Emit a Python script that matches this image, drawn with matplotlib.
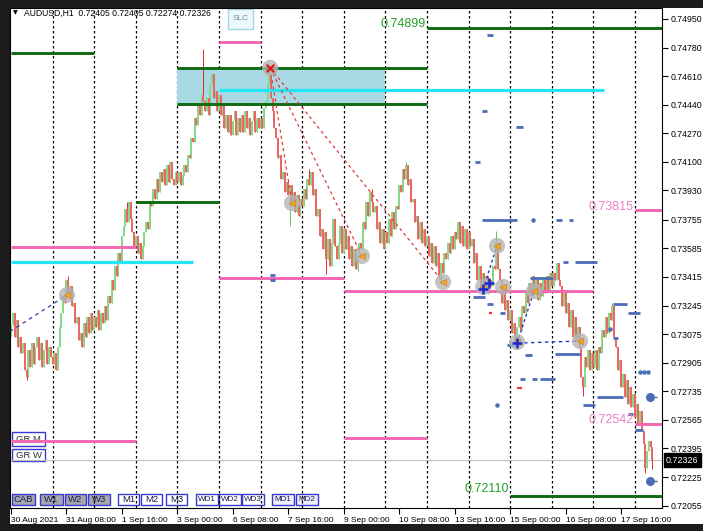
import matplotlib
matplotlib.use("Agg")
import matplotlib.pyplot as plt
from matplotlib.patches import Rectangle
from matplotlib.transforms import Affine2D, blended_transform_factory
import numpy as np

# ---------------- data ----------------
title_text = "AUDUSD,H1  0.72405 0.72405 0.72274 0.72326"
last_price = 0.72326

closes_d00 = [0.7313,0.7320,0.7306,0.7316,0.7300,0.7306,0.7296,0.7302,0.7286,0.7282,0.7298,0.7288,0.7302,0.7290,0.7300,0.7306,0.7292,0.7302,0.7288,0.7298,0.7304,0.7290,0.7300,0.7294]
closes_d01 = [0.7290,0.7296,0.7286,0.7300,0.7312,0.7320,0.7330,0.7326,0.7340,0.7332,0.7336,0.7324,0.7326,0.7314,0.7318,0.7304,0.7308,0.7300,0.7314,0.7306,0.7318,0.7308,0.7320,0.7310]
closes_d02 = [0.7318,0.7312,0.7322,0.7310,0.7320,0.7314,0.7324,0.7316,0.7330,0.7326,0.7340,0.7334,0.7348,0.7342,0.7356,0.7350,0.7366,0.7372,0.7382,0.7374,0.7386,0.7376,0.7368,0.7360]
closes_d03 = [0.7366,0.7356,0.7362,0.7352,0.7360,0.7368,0.7374,0.7370,0.7386,0.7384,0.7394,0.7388,0.7400,0.7392,0.7404,0.7398,0.7406,0.7396,0.7408,0.7398,0.7410,0.7400,0.7396,0.7404]
closes_d04 = [0.7398,0.7404,0.7396,0.7402,0.7408,0.7404,0.7414,0.7412,0.7424,0.7422,0.7436,0.7432,0.7444,0.7438,0.7450,0.7446,0.7440,0.7448,0.7438,0.7456,0.7462,0.7448,0.7452,0.7440]
closes_d05 = [0.7450,0.7438,0.7444,0.7430,0.7438,0.7428,0.7438,0.7426,0.7434,0.7440,0.7426,0.7436,0.7428,0.7438,0.7428,0.7440,0.7430,0.7436,0.7426,0.7434,0.7440,0.7428,0.7436,0.7430]
closes_d06 = [0.7436,0.7430,0.7442,0.7446,0.7456,0.7462,0.7448,0.7440,0.7430,0.7424,0.7412,0.7414,0.7400,0.7404,0.7392,0.7398,0.7390,0.7396,0.7384,0.7392,0.7380,0.7390,0.7378,0.7388]
closes_d07 = [0.7384,0.7394,0.7388,0.7400,0.7396,0.7404,0.7390,0.7394,0.7378,0.7382,0.7366,0.7370,0.7358,0.7368,0.7352,0.7364,0.7348,0.7362,0.7376,0.7360,0.7352,0.7362,0.7372,0.7356]
closes_d08 = [0.7370,0.7358,0.7366,0.7352,0.7360,0.7348,0.7358,0.7346,0.7354,0.7362,0.7358,0.7374,0.7370,0.7386,0.7378,0.7392,0.7386,0.7380,0.7384,0.7370,0.7374,0.7362,0.7370,0.7358]
closes_d09 = [0.7368,0.7362,0.7376,0.7366,0.7380,0.7370,0.7384,0.7382,0.7396,0.7392,0.7406,0.7400,0.7408,0.7396,0.7400,0.7386,0.7388,0.7374,0.7378,0.7364,0.7374,0.7362,0.7370,0.7360]
closes_d10 = [0.7366,0.7354,0.7362,0.7350,0.7360,0.7348,0.7356,0.7342,0.7350,0.7344,0.7356,0.7352,0.7362,0.7356,0.7366,0.7358,0.7368,0.7364,0.7374,0.7362,0.7372,0.7360,0.7370,0.7358]
closes_d11 = [0.7368,0.7360,0.7364,0.7350,0.7356,0.7340,0.7348,0.7334,0.7344,0.7336,0.7342,0.7332,0.7340,0.7336,0.7348,0.7346,0.7362,0.7346,0.7340,0.7326,0.7334,0.7322,0.7328,0.7316]
closes_d12 = [0.7322,0.7308,0.7314,0.7302,0.7312,0.7318,0.7310,0.7324,0.7320,0.7332,0.7326,0.7338,0.7330,0.7342,0.7332,0.7340,0.7328,0.7338,0.7330,0.7340,0.7332,0.7342,0.7334,0.7344]
closes_d13 = [0.7336,0.7344,0.7340,0.7350,0.7340,0.7336,0.7324,0.7332,0.7320,0.7326,0.7312,0.7322,0.7306,0.7318,0.7304,0.7312,0.7300,0.7282,0.7276,0.7294,0.7288,0.7298,0.7286,0.7296]
closes_d14 = [0.7288,0.7298,0.7286,0.7300,0.7296,0.7310,0.7306,0.7318,0.7308,0.7320,0.7316,0.7324,0.7306,0.7300,0.7286,0.7292,0.7276,0.7284,0.7270,0.7280,0.7266,0.7276,0.7264,0.7272,0.7258,0.7266,0.7254,0.7262,0.7250,0.7242,0.7228,0.7238,0.7244,0.72405,0.72326]
first_open = 0.7306

spike_high_bars = [33, 67, 111, 149, 172, 208, 228, 280, 316, 347]
spike_high_prices = [0.7342, 0.7386, 0.7477, 0.7467, 0.7406, 0.7394, 0.7410, 0.7369, 0.7350, 0.7326]
spike_low_bars = [9, 161, 182, 200, 248, 291, 330, 366, 370]
spike_low_prices = [0.7280, 0.7372, 0.7343, 0.7345, 0.7338, 0.7301, 0.7271, 0.7225, 0.72274]

y_ticks = [0.74950, 0.74780, 0.74610, 0.74440, 0.74270, 0.74100, 0.73930, 0.73755, 0.73585,
           0.73415, 0.73245, 0.73075, 0.72905, 0.72735, 0.72565, 0.72395, 0.72225, 0.72055]
x_tick_bars = [0, 32, 64, 96, 128, 160, 192, 224, 256, 288, 320, 352]
x_tick_labels = ["30 Aug 2021", "31 Aug 08:00", "1 Sep 16:00", "3 Sep 00:00", "6 Sep 08:00",
                 "7 Sep 16:00", "9 Sep 00:00", "10 Sep 08:00", "13 Sep 16:00", "15 Sep 00:00",
                 "16 Sep 08:00", "17 Sep 16:00"]
day_separator_bars = [24, 48, 72, 96, 120, 144, 168, 192, 216, 240, 264, 288, 312, 336, 360]

# level lines (start bar, end bar, price)
green_start = [0, 72, 96, 96, 240, 288]
green_end = [48, 120, 240, 240, 376, 376]
green_price = [0.74748, 0.73861, 0.74658, 0.74444, 0.74899, 0.72110]
pink_start = [0, 0, 120, 120, 192, 192, 360, 360]
pink_end = [72, 72, 144, 192, 240, 336, 376, 376]
pink_price = [0.73594, 0.72440, 0.74814, 0.73409, 0.72455, 0.73329, 0.73815, 0.72542]
cyan_start = [0, 120]
cyan_end = [105, 342]
cyan_price = [0.73505, 0.74528]
zone_start, zone_end = 96, 216
zone_low, zone_high = 0.74430, 0.74653

green_label_bars = [240, 288]
green_label_prices = [0.74899, 0.72110]
pink_label_bars = [360, 360]
pink_label_prices = [0.73815, 0.72542]

circle_bars = [32.3, 149.5, 162.1, 202.5, 249.3, 272.4, 280.4, 283.9, 292.0, 301.8, 328.3]
circle_prices = [0.73308, 0.74659, 0.73855, 0.73540, 0.73385, 0.73356, 0.73600, 0.73356, 0.73028, 0.73332, 0.73034]

fan_origin_bar, fan_origin_price = 149.5, 0.74659
fan_end_bars = [162.1, 202.5, 249.3]
fan_end_prices = [0.73855, 0.73540, 0.73385]

cross_bars = [272.4, 275.8, 292.0]
cross_prices = [0.73344, 0.73380, 0.73022]

blue_dash_start = [274.7, 271.8, 291.4, 271.8, 314.5, 322.0, 267.7, 318.5, 325.4, 299.5, 347.4, 356.0,
                   266.6, 274.7, 282.2, 286.2, 296.6, 313.9, 347.4, 293.7, 300.6, 305.2, 330.0, 338.1,
                   356.0, 360.0, 149.5, 149.5]
blue_dash_end = [278.1, 274.7, 295.4, 292.0, 318.0, 324.3, 270.6, 321.4, 338.1, 312.7, 355.4, 363.0,
                 273.5, 278.1, 285.0, 292.0, 300.6, 328.3, 350.3, 296.6, 303.5, 313.9, 337.0, 353.1,
                 359.0, 364.6, 152.3, 152.3]
blue_dash_price = [0.74855, 0.74403, 0.74308, 0.73754, 0.73754, 0.73754, 0.74100, 0.73504, 0.73504, 0.73409,
                   0.73254, 0.73201, 0.73296, 0.73254, 0.73201, 0.73011, 0.72951, 0.72957, 0.73052, 0.72808,
                   0.72808, 0.72808, 0.72654, 0.72702, 0.72600, 0.72505, 0.73427, 0.73397]
blue_dot_bars = [301.2, 280.4, 345.6, 363.0, 365.3, 367.6]
blue_dot_prices = [0.73754, 0.72654, 0.73106, 0.72850, 0.72850, 0.72850]
red_dash_start = [292.0, 275.8]
red_dash_end = [294.9, 277.6]
red_dash_price = [0.72755, 0.73201]
target_dot_bars = [368.7, 368.7]
target_dot_prices = [0.72702, 0.72201]

bottom_buttons = ["CAB", "W1", "W2", "W3", "M1", "M2", "M3", "WD1", "WD2", "WD3", "MD1", "MD2"]

# ---------------- figure ----------------
W, H = 703, 531
FONT = ["Liberation Sans", "DejaVu Sans"]
plt.rcParams["font.family"] = FONT

fig = plt.figure(figsize=(W / 100, H / 100), dpi=100)
fig.patch.set_facecolor("#1c1c1c")
pix = Affine2D().scale(1.0 / W, -1.0 / H).translate(0, 1) + fig.transFigure

fig.add_artist(Rectangle((10, 8), W - 10, 516, transform=pix, facecolor="white",
                         edgecolor="none", zorder=-5))

ax = fig.add_axes([10 / W, 1 - 508 / H, 652 / W, 500 / H])
ax.set_facecolor("none")
ax.set_xlim(-0.6, 375.6)
ax.set_ylim(0.72041, 0.75015)

# day separators
for b in day_separator_bars:
    ax.axvline(b, color="black", lw=0.9, linestyle=(0, (2, 2)), zorder=1)

# current price line
ax.axhline(last_price, color="#c4c4c4", lw=0.9, zorder=1)

# zone rectangle
ax.add_patch(Rectangle((zone_start, zone_low), zone_end - zone_start, zone_high - zone_low,
                       facecolor="#a9d9e4", edgecolor="none", zorder=1.5))

# candles
c = np.array(closes_d00 + closes_d01 + closes_d02 + closes_d03 + closes_d04 + closes_d05 +
             closes_d06 + closes_d07 + closes_d08 + closes_d09 + closes_d10 + closes_d11 +
             closes_d12 + closes_d13 + closes_d14)
o = np.r_[first_open, c[:-1]]
xb = np.arange(len(c))
hi = np.maximum(o, c)
lo = np.minimum(o, c)
for b, p in zip(spike_high_bars, spike_high_prices):
    hi[b] = max(hi[b], p)
for b, p in zip(spike_low_bars, spike_low_prices):
    lo[b] = min(lo[b], p)
up = c >= o
dn = ~up
ax.vlines(xb[up], lo[up], hi[up], color="#5cc45c", lw=0.7, zorder=2)
ax.vlines(xb[up], o[up], c[up], color="#86d886", lw=1.4, zorder=2.1)
ax.vlines(xb[dn], lo[dn], hi[dn], color="#e02828", lw=0.7, zorder=2)
ax.vlines(xb[dn], c[dn], o[dn], color="#ee6464", lw=1.4, zorder=2.1)

# level lines
ax.hlines(green_price, green_start, green_end, color="#0f6a0f", lw=2.1, zorder=3)
ax.hlines(pink_price, pink_start, pink_end, color="#f466b2", lw=2.1, zorder=3)
ax.hlines(cyan_price, cyan_start, cyan_end, color="#22e4f2", lw=2.3, zorder=3)

for b, p, dy in zip(green_label_bars, green_label_prices, [-2, 1]):
    ax.annotate(f"{p:.5f}", (b, p), xytext=(-1, dy), textcoords="offset pixels", ha="right",
                va="bottom", fontsize=9, color="#23a023", zorder=4)
for b, p, dy in zip(pink_label_bars, pink_label_prices, [-3, -2]):
    ax.annotate(f"{p:.5f}", (b, p), xytext=(-1, dy), textcoords="offset pixels", ha="right",
                va="bottom", fontsize=9, color="#f07cc4", zorder=4)

# blue dashes / marks
ax.hlines(blue_dash_price, blue_dash_start, blue_dash_end, color="#4b6db6", lw=2.0, zorder=3.5)
ax.scatter(blue_dot_bars, blue_dot_prices, s=5, color="#4b6db6", zorder=3.5)
ax.hlines(red_dash_price, red_dash_start, red_dash_end, color="#e83a3a", lw=1.6, zorder=3.5)
ax.scatter(target_dot_bars, target_dot_prices, s=30, color="#4b6db6", zorder=3.6)
for p in target_dot_prices:
    ax.plot([370.5, 375.6], [p, p], color="#4b6db6", lw=1.0, linestyle=(0, (3, 3)), zorder=3.5)

# circles
ax.scatter(circle_bars, circle_prices, s=135, color="#b4b4b4", alpha=0.8, edgecolors="none", zorder=5)
ax.scatter(circle_bars[:1] + circle_bars[2:], circle_prices[:1] + circle_prices[2:], marker="<",
           s=22, color="#f4a628", edgecolors="#c77f10", linewidths=0.4, zorder=6)
ax.scatter([fan_origin_bar], [fan_origin_price], marker="x", s=30, color="#e01818", linewidths=1.6, zorder=6)

# red dashed fan
for eb, ep in zip(fan_end_bars, fan_end_prices):
    ax.plot([fan_origin_bar, eb], [fan_origin_price, ep], color="#e03a3a", lw=0.9,
            linestyle=(0, (2.5, 2.5)), zorder=4)

# blue dotted connections
ax.plot([-0.6, circle_bars[0]], [0.73091, circle_prices[0]], color="#3a3aaa", lw=0.9,
        linestyle=(0, (3, 3)), zorder=4)
ax.plot([cross_bars[0], circle_bars[6]], [cross_prices[0], circle_prices[6]], color="#2232c8", lw=1.0,
        linestyle=(0, (2, 2)), zorder=4)
ax.plot([cross_bars[2], circle_bars[9]], [cross_prices[2], circle_prices[9]], color="#2232c8", lw=1.0,
        linestyle=(0, (2, 2)), zorder=4)
ax.plot([cross_bars[2], circle_bars[10]], [cross_prices[2], circle_prices[10]], color="#2232c8", lw=1.0,
        linestyle=(0, (2.5, 2.5)), zorder=4)
ax.scatter(cross_bars, cross_prices, marker="+", s=45, color="#1a28d8", linewidths=1.8, zorder=6)

# axes styling
for s in ax.spines.values():
    s.set_color("black")
    s.set_linewidth(0.8)
ax.yaxis.tick_right()
ax.set_yticks(y_ticks)
ax.set_yticklabels([f"{v:.5f}" for v in y_ticks])
ax.tick_params(axis="y", direction="out", length=4, width=0.8, pad=2, labelsize=6.3, colors="black")
ax.set_xticks(x_tick_bars)
ax.set_xticklabels(x_tick_labels)
ax.tick_params(axis="x", direction="out", length=4, width=0.8, pad=2.5, labelsize=6.0, colors="black")
for lab in ax.get_xticklabels():
    lab.set_ha("left")

ax.annotate(f"{last_price:.5f}", xy=(1, last_price),
            xycoords=blended_transform_factory(ax.transAxes, ax.transData),
            xytext=(4, 0), textcoords="offset pixels", ha="left", va="center", fontsize=6.4,
            color="white", bbox=dict(boxstyle="square,pad=0.25", fc="black", ec="black"),
            annotation_clip=False)

# ---------------- UI overlay (buttons, title) ----------------
def button(x0, y0, x1, y1, label, face, edge, tcolor, fs=6.2):
    fig.add_artist(Rectangle((x0, y0), x1 - x0, y1 - y0, transform=pix, facecolor=face,
                             edgecolor=edge, lw=1.0, zorder=-1))
    fig.text((x0 + x1) / 2 / W, 1 - (y0 + y1) / 2 / H, label, ha="center", va="center",
             fontsize=fs, color=tcolor, zorder=-1)

bx = [(12, 35), (40, 63), (65, 86), (88, 110), (118, 139), (141, 162), (166, 187),
      (196, 218), (219, 241), (242, 264), (272, 294), (296, 318)]
for i, (lab, (x0, x1)) in enumerate(zip(bottom_buttons, bx)):
    if i < 4:
        face = "#a6a6ae"
    elif i >= 10:
        face = "#eeeefc"
    else:
        face = "white"
    button(x0, 494, x1, 505, lab, face, "#3838d0", "#1c1c50", fs=6.8 if i < 7 else 5.9)

button(12, 432, 45, 446, "GR M", "white", "#3838d0", "#333333", fs=6.8)
button(12, 449, 45, 461, "GR W", "white", "#3838d0", "#333333", fs=6.8)
button(228, 9, 253, 29, "SLC", "#eef8fb", "#a0d8e8", "#7090a8", fs=6)

fig.text(13 / W, 1 - 13 / H, "\u25bc", fontsize=4.5, color="black", ha="left", va="center",
         family="DejaVu Sans", zorder=-1)
fig.text(24 / W, 1 - 13 / H, title_text, fontsize=6.2, color="black", ha="left", va="center", zorder=-1)

fig.savefig("out.png", dpi=100, facecolor=fig.get_facecolor())
